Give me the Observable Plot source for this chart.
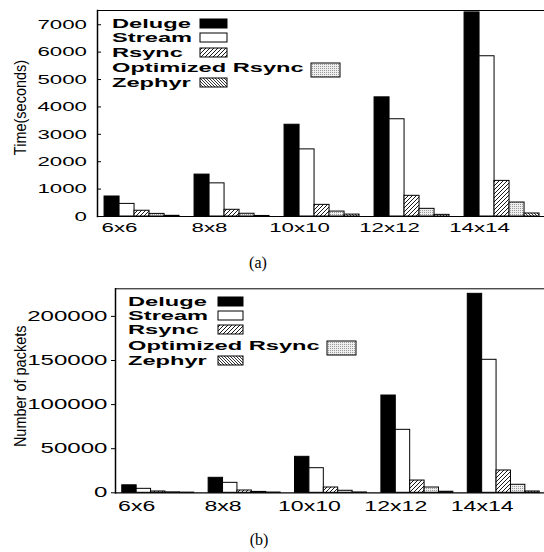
<!DOCTYPE html>
<html><head><meta charset="utf-8">
<script src="https://cdn.jsdelivr.net/npm/d3@7"></script>
<script src="https://cdn.jsdelivr.net/npm/@observablehq/plot@0.6"></script>
<style>
body{margin:0;background:#fff;}
#page{position:relative;width:544px;height:552px;overflow:hidden;background:#fff;font-family:"Liberation Sans",Arial,sans-serif;}
.chart{position:absolute;left:0;}
.leg{position:absolute;font-weight:bold;font-size:13.5px;line-height:12px;height:12px;white-space:nowrap;color:#000;}
.leg span{display:inline-block;line-height:12px;height:12px;transform:scaleX(1.75);transform-origin:0 50%;}
.sw{position:absolute;overflow:visible;}
.cap{position:absolute;font-family:"Liberation Serif","Times New Roman",serif;font-size:16px;line-height:18px;transform:translateX(-50%);}
</style></head>
<body><div id="page">
<svg width="0" height="0" style="position:absolute">
<defs>
 <pattern id="pRsync" patternUnits="userSpaceOnUse" width="4" height="4"><rect width="4" height="4" fill="#fff"/><path d="M-1,1 l2,-2 M0,4 l4,-4 M3,5 l2,-2" stroke="#000" stroke-width="0.9"/></pattern>
 <pattern id="pOpt" patternUnits="userSpaceOnUse" width="2" height="2"><rect width="2" height="2" fill="#eee"/><rect width="1" height="1" fill="#999"/></pattern>
 <pattern id="pZeph" patternUnits="userSpaceOnUse" width="3" height="3"><rect width="3" height="3" fill="#fff"/><path d="M-1,2 l2,2 M0,0 l3,3 M2,-1 l2,2" stroke="#000" stroke-width="0.8"/></pattern>
</defs></svg>
</div>
<script>
const categories = ["6x6", "8x8", "10x10", "12x12", "14x14"];
const series = ["Deluge", "Stream", "Rsync", "Optimized Rsync", "Zephyr"];

const timeDeluge   = [730, 1530, 3350, 4350, 7450];
const timeStream   = [460, 1210, 2450, 3550, 5850];
const timeRsync    = [210, 245, 425, 755, 1300];
const timeOptRsync = [95, 100, 180, 280, 510];
const timeZephyr   = [25, 20, 70, 60, 110];
const timeTicks = [0, 1000, 2000, 3000, 4000, 5000, 6000, 7000];

const pktDeluge   = [8500, 17000, 40800, 110300, 225600];
const pktStream   = [4500, 11300, 27900, 71400, 150800];
const pktRsync    = [1500, 2600, 6000, 13900, 25300];
const pktOptRsync = [500, 1000, 2300, 6000, 9100];
const pktZephyr   = [200, 300, 400, 1200, 1500];
const pktTicks = [0, 50000, 100000, 150000, 200000];

const fills = ["#000", "#fff", "url(#pRsync)", "url(#pOpt)", "url(#pZeph)"];
const page = document.getElementById("page");

function stretch(svg, sel, s, rotated) {
  svg.querySelectorAll(sel).forEach(t => {
    const x = parseFloat(t.getAttribute("x")) || 0;
    t.removeAttribute("x");
    const tr = t.getAttribute("transform") || "";
    t.setAttribute("transform", `${tr} translate(${x},0) ${rotated ? `scale(1,${s})` : `scale(${s},1)`}`);
  });
}

function chart(o) {
  const rows = [];
  o.values.forEach((arr, s) => arr.forEach((v, g) => rows.push({g, s, v})));
  const plotWidth = 544 - o.marginLeft;
  const tickMarks = o.tickIn
    ? [Plot.tickY(o.yTicks, {y: d => d, insetRight: plotWidth - 4, stroke: "#000", strokeWidth: 1}),
       Plot.axisY(o.yTicks, {label: null, tickSize: 0, tickPadding: o.tickPadY, fontSize: o.tickFont, tickFormat: d => String(d)})]
    : [Plot.axisY(o.yTicks, {label: null, tickSize: 4, tickPadding: o.tickPadY, fontSize: o.tickFont, tickFormat: d => String(d), stroke: "#000"})];
  const svg = Plot.plot({
    width: 544, height: o.height,
    marginLeft: o.marginLeft, marginRight: 0, marginTop: o.marginTop, marginBottom: o.marginBottom,
    x: {domain: [-0.47, 29.33], axis: null, label: null},
    y: {domain: [0, o.yMax], axis: null, label: null},
    style: {fontFamily: "Liberation Sans, Arial, sans-serif", background: "transparent", overflow: "visible", color: "#000"},
    marks: [
      ...series.map((name, s) => Plot.rectY(rows.filter(d => d.s === s), {
        x1: d => d.g * 6 + s, x2: d => d.g * 6 + s + 1, y: "v",
        fill: fills[s], stroke: "#000", strokeWidth: 1
      })),
      Plot.frame({anchor: "top", stroke: "#000", strokeWidth: 1}),
      Plot.frame({anchor: "left", stroke: "#000", strokeWidth: 1.5}),
      Plot.frame({anchor: "bottom", stroke: "#000", strokeWidth: 1.2}),
      ...tickMarks,
      Plot.axisX(categories.map((c, i) => i * 6 + 1), {label: null, tickSize: 0, tickPadding: o.tickPadX, fontSize: o.tickFont, tickFormat: d => categories[Math.round((d - 1) / 6)]}),
      Plot.text([o.yLabel], {frameAnchor: "left", textAnchor: "middle", rotate: -90, dx: o.labelDx, dy: o.labelDy, fontSize: 14.5, fill: "#000"})
    ]
  });
  svg.classList.add("chart");
  svg.style.top = o.top + "px";
  stretch(svg, 'g[aria-label="y-axis tick label"] text', o.tickScaleY, false);
  stretch(svg, 'g[aria-label="x-axis tick label"] text', 1.65, false);
  stretch(svg, 'g[aria-label="text"] text', 1.2, true);
  page.appendChild(svg);
}

function legend(rowsY, textX, swX, swW, opt) {
  series.forEach((name, s) => {
    const d = document.createElement("div");
    d.className = "leg";
    d.style.left = textX + "px";
    d.style.top = (rowsY[s] - 6) + "px";
    const sp = document.createElement("span");
    sp.textContent = name;
    d.appendChild(sp);
    page.appendChild(d);
    const isOpt = s === 3;
    const w = isOpt ? opt.w : swW, h = isOpt ? opt.h : 9;
    const x = isOpt ? opt.x : swX, cy = isOpt ? opt.cy : rowsY[s] - 0.5;
    const sv = document.createElementNS("http://www.w3.org/2000/svg", "svg");
    sv.setAttribute("class", "sw");
    sv.setAttribute("width", w + 2); sv.setAttribute("height", h + 2);
    sv.style.left = (x - 1) + "px"; sv.style.top = (cy - h / 2 - 1) + "px";
    const r = document.createElementNS("http://www.w3.org/2000/svg", "rect");
    r.setAttribute("x", 1); r.setAttribute("y", 1); r.setAttribute("width", w); r.setAttribute("height", h);
    r.setAttribute("fill", fills[s]); r.setAttribute("stroke", "#000"); r.setAttribute("stroke-width", 1);
    sv.appendChild(r);
    page.appendChild(sv);
  });
}

function caption(text, cx, cy) {
  const d = document.createElement("div");
  d.className = "cap";
  d.textContent = text;
  d.style.left = cx + "px";
  d.style.top = (cy - 9) + "px";
  page.appendChild(d);
}

chart({
  values: [timeDeluge, timeStream, timeRsync, timeOptRsync, timeZephyr],
  top: 0, height: 240, marginLeft: 97, marginTop: 10, marginBottom: 24,
  yMax: 7520, yTicks: timeTicks, tickIn: true, tickPadY: 10.5, tickPadX: 6, tickFont: 13.5, tickScaleY: 1.65,
  yLabel: "Time(seconds)", labelDx: -77, labelDy: -6
});
chart({
  values: [pktDeluge, pktStream, pktRsync, pktOptRsync, pktZephyr],
  top: 278, height: 240, marginLeft: 115, marginTop: 10.3, marginBottom: 25.7,
  yMax: 231300, yTicks: pktTicks, tickIn: false, tickPadY: 4, tickPadX: 8.5, tickFont: 14, tickScaleY: 1.72,
  yLabel: "Number of packets", labelDx: -95, labelDy: -4.5
});
legend([23.5, 37.5, 52.5, 68, 83], 112, 200, 27, {x: 311, w: 29, h: 14, cy: 70});
legend([301.5, 315.5, 330, 346, 361], 128, 218, 25, {x: 327, w: 29, h: 14, cy: 348});
caption("(a)", 258, 263);
caption("(b)", 259, 540);
</script>
</body></html>
